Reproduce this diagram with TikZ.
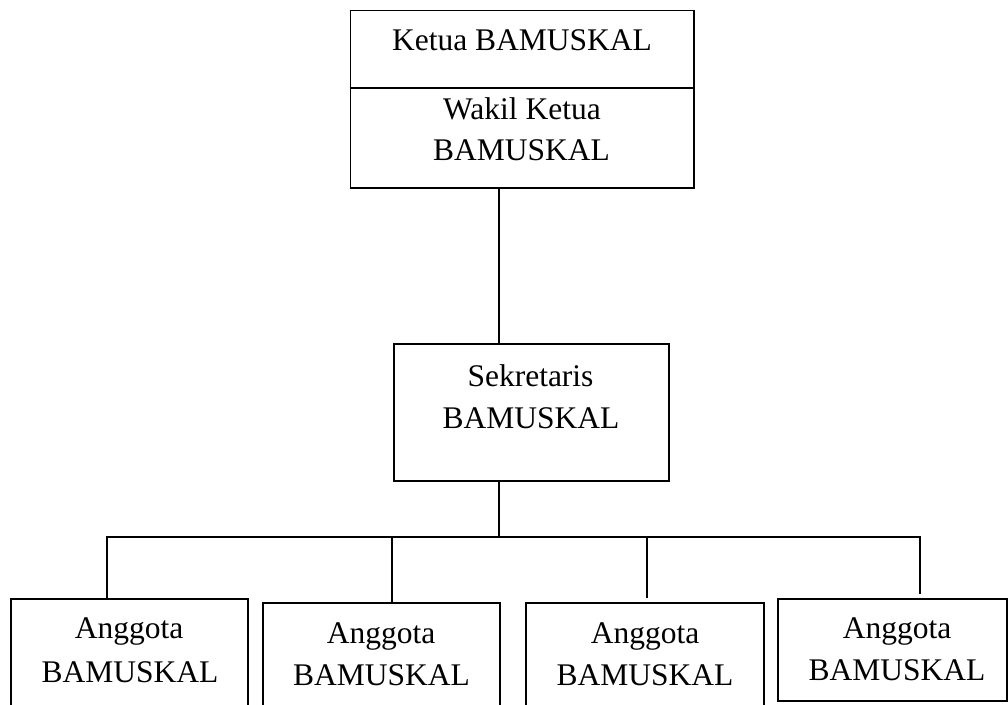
\documentclass[tikz,border=0pt]{standalone}
\usepackage{fontspec}
\setmainfont{Liberation Serif}
\begin{document}
\begin{tikzpicture}[x=1pt,y=-1pt,
  box/.style={draw, line width=1.8pt, inner sep=0pt},
  lbl/.style={anchor=base, inner sep=0pt, font=\fontsize{31.5}{38}\selectfont},
  wire/.style={line width=1.8pt},
  conn/.style={line width=1.8pt, line cap=rect}]
\useasboundingbox (0,0) rectangle (1008,704);
% boxes
\node[box, minimum width=343.5pt, minimum height=177.5pt] (top) at (522.25,99.25) {};
\node[box, minimum width=275pt, minimum height=137pt] (sek) at (531.5,412.5) {};
\node[box, minimum width=237.3pt, minimum height=113pt] (a1) at (129.3,655.5) {};
\node[box, minimum width=237pt, minimum height=109pt] (a2) at (381.5,657.5) {};
\node[box, minimum width=238pt, minimum height=109pt] (a3) at (645,657.5) {};
\node[box, minimum width=229pt, minimum height=102pt] (a4) at (892.5,650) {};
% divider in top box
\coordinate (dv) at (0,88);
\draw[wire] (top.west |- dv) -- (top.east |- dv);
% labels
\node[lbl] (t1) at (522,50) {Ketua BAMUSKAL};
\node[lbl] (t2) at (522,119) {Wakil Ketua};
\node[lbl] (t3) at (521.5,160) {BAMUSKAL};
\node[lbl] (s1) at (530.5,386) {Sekretaris};
\node[lbl] (s2) at (531,428) {BAMUSKAL};
\node[lbl] (a1l1) at (129,638) {Anggota};
\node[lbl] (a1l2) at (130,682) {BAMUSKAL};
\node[lbl] (a2l1) at (381,643) {Anggota};
\node[lbl] (a2l2) at (381.5,685) {BAMUSKAL};
\node[lbl] (a3l1) at (645,643) {Anggota};
\node[lbl] (a3l2) at (645,685) {BAMUSKAL};
\node[lbl] (a4l1) at (897,638) {Anggota};
\node[lbl] (a4l2) at (897,680) {BAMUSKAL};
% connectors
\coordinate (trunk) at (499,537);
\coordinate (b1) at (107,537);
\coordinate (b2) at (392,537);
\coordinate (b3) at (647,537);
\coordinate (b4) at (920,537);
\coordinate (e3) at (647,598);
\coordinate (e4) at (920,594);
\draw[wire] (top.south -| trunk) -- (sek.north -| trunk);
\draw[wire] (sek.south -| trunk) -- (trunk);
\draw[conn] (b1) -- (b4);
\draw[wire] (b1) -- (a1.north -| b1);
\draw[wire] (b2) -- (a2.north -| b2);
\draw[wire] (b3) -- (e3);
\draw[wire] (b4) -- (e4);
\end{tikzpicture}
\end{document}
